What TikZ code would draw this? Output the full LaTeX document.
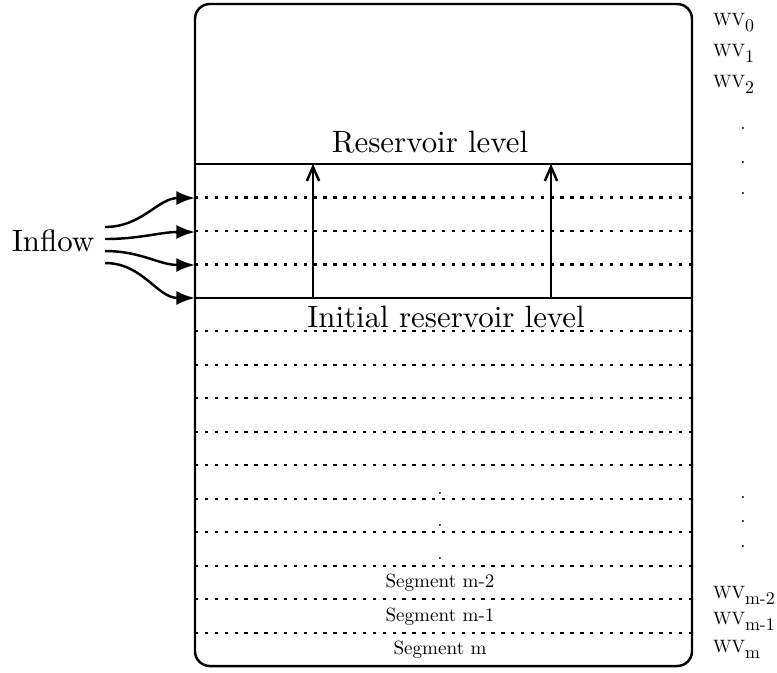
\documentclass[tikz,border=0pt]{standalone}
\usepackage{amsmath}
\usepackage{graphicx}
\usepackage{tikz}
\usetikzlibrary{arrows.meta}
\usetikzlibrary{calc}
\usetikzlibrary{positioning}

\newcommand{\wvsub}[1]{\scalebox{0.58}{WV\raisebox{-3.8pt}{#1}}}
\newcommand{\seglab}[1]{\scalebox{0.62}{#1}}

\begin{document}
\begin{tikzpicture}[x=0.324pt,y=-0.324pt,shorten >=0pt,auto,thick]
 				 \tikzstyle{seg}=[line width=0.7pt, dash pattern=on 1.1pt off 2.1pt]
 				 \tikzstyle{small}=[inner sep=0pt]
 				 \tikzstyle{wv}=[inner sep=0pt, anchor=base west]
 				 \tikzstyle{inarr}=[-{Latex[length=6pt,width=4.5pt]}, out=0, in=180]
 				 \tikzstyle{uparr}=[-{Straight Barb[length=4.5pt,width=4pt]}]
 				 \useasboundingbox (0,0) rectangle (777,672);
 				 % tank
 				 \draw[rounded corners=4.8pt] (195,4) rectangle (692,666);
 				 \draw (195,164) -- (692,164);
 				 \draw (195,298) -- (692,298);
 				 \foreach \k in {1,2,3,5,6,7,8,9,10,11,12,13,14}
 				   \draw[seg] (195,{164+33.47*\k}) -- (692,{164+33.47*\k});
 				 % labels
 					 \node[inner sep=0pt, anchor=base] 	(R) at (430,152) 	{Reservoir level};
 					 \node[inner sep=0pt, anchor=base] 	(I) at (446,327) 	{Initial reservoir level};
 					 \node[inner sep=0pt, anchor=base] 	(F) at (53,251) 	{Inflow};
 					 \node[small] 		(S2) at (440,583) 	{\seglab{Segment m-2}};
 					 \node[small] 		(S1) at (440,617) 	{\seglab{Segment m-1}};
 					 \node[small] 		(S0) at (440,650) 	{\seglab{Segment m}};
 					 \foreach \y [count=\i] in {493,525,558}
 					   \node[small] (m\i) at (440,\y) {\seglab{.}};
 					 \foreach \y [count=\i] in {128,162,193,497,521,546}
 					   \node[small] (r\i) at (743,\y) {\seglab{.}};
 					 \node[wv] 		(W0) at (712,25) 	{\wvsub{0}};
 					 \node[wv] 		(W1) at (712,56) 	{\wvsub{1}};
 					 \node[wv] 		(W2) at (712,87) 	{\wvsub{2}};
 					 \node[wv] 		(Wm2) at (712,598) 	{\wvsub{m-2}};
 					 \node[wv] 		(Wm1) at (712,624) 	{\wvsub{m-1}};
 					 \node[wv] 		(Wm) at (712,652) 	{\wvsub{m}};
 				 % inflow
 					 \coordinate (s1) at (105,227);
 					 \coordinate (s2) at (105,239);
 					 \coordinate (s3) at (105,251);
 					 \coordinate (s4) at (105,263);
 					 \coordinate (e1) at (195,198);
 					 \coordinate (e2) at (195,232);
 					 \coordinate (e3) at (195,265);
 					 \coordinate (e4) at (195,298);
 				 % rise
 					 \coordinate (a1) at (313,298);
 					 \coordinate (b1) at (313,164);
 					 \coordinate (a2) at (551,298);
 					 \coordinate (b2) at (551,164);
				\path
				(s1) edge[inarr] (e1)
				(s2) edge[inarr] (e2)
				(s3) edge[inarr] (e3)
				(s4) edge[inarr] (e4)
				(a1) edge[uparr] (b1)
				(a2) edge[uparr] (b2);
\end{tikzpicture}
\end{document}
